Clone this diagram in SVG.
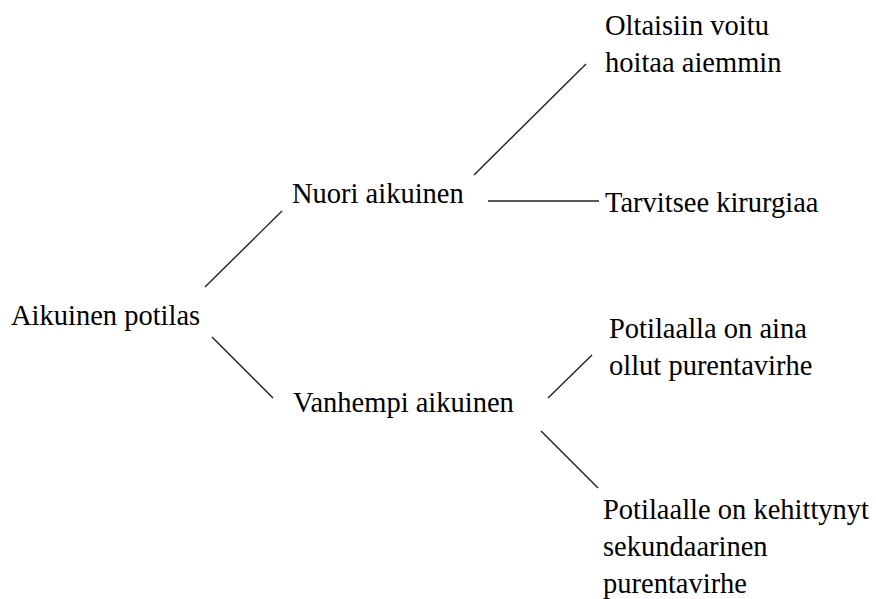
<svg xmlns="http://www.w3.org/2000/svg" width="876" height="599" viewBox="0 0 876 599">
<style>
.c line{stroke:#222;stroke-width:1.4}
</style>
<rect width="876" height="599" fill="#fff"/>
<g class="c" id="connectors">
<line x1="205" y1="287" x2="282" y2="211"/>
<line x1="212" y1="337" x2="273" y2="398"/>
<line x1="474" y1="175" x2="586" y2="64"/>
<line x1="488" y1="201" x2="599" y2="201"/>
<line x1="548" y1="398" x2="592" y2="355"/>
<line x1="541" y1="431" x2="598" y2="488"/>
</g>
<g font-family="Liberation Serif, serif" font-size="28.5" fill="#000">
<g id="root"><text x="11" y="325">Aikuinen potilas</text></g>
<g id="nuori"><text x="292" y="203">Nuori aikuinen</text></g>
<g id="vanhempi"><text x="293" y="412">Vanhempi aikuinen</text></g>
<g id="oltaisiin"><text x="605" y="35">Oltaisiin voitu</text><text x="605" y="72">hoitaa aiemmin</text></g>
<g id="tarvitsee"><text x="605" y="212">Tarvitsee kirurgiaa</text></g>
<g id="aina"><text x="609" y="338">Potilaalla on aina</text><text x="609" y="375">ollut purentavirhe</text></g>
<g id="kehittynyt"><text x="603" y="519">Potilaalle on kehittynyt</text><text x="603" y="556">sekundaarinen</text><text x="603" y="593">purentavirhe</text></g>
</g>
</svg>
